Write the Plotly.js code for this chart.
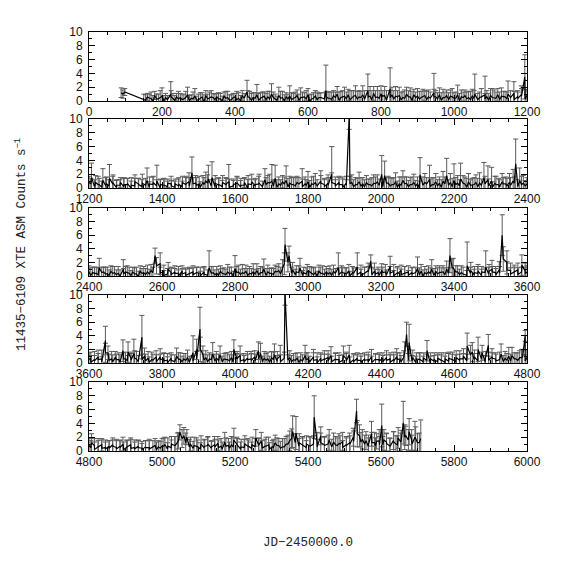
<!DOCTYPE html>
<html>
<head>
<meta charset="utf-8">
<script src="https://cdn.plot.ly/plotly-3.0.1.min.js"></script>
<style>html,body{margin:0;padding:0;background:#fff;}#chart{width:574px;height:574px;}</style>
</head>
<body>
<div id="chart"></div>
<script>
// ---- first set of dwell-averaged points (JD-2450000.0, counts/s, 1-sigma) ----
const days = [
  88,93,98,
  150,160,170,180,190,200,210,224,230,240,
  250,260,270,280,290,300,310,320,330,340,
  350,360,370,380,390,400,410,420,433,440,
  450,460,470,480,490,500,510,520,530,540,
  550,560,570,580,590,600,610,620,630,649,
  650,660,670,680,690,700,710,720,730,740,
  750,764,770,780,790,800,810,825,830,840,
  850,860,870,880,890,900,910,920,930,945,
  950,960,970,980,990,1000,1010,1020,1030,1040,
  1050,1057,1070,1085,1090,1100,1110,1120,1130,1140,
  1148,1164,1174,1184,1194,1200,
  1207,1218,1228,1238,1248,1256,1266,1276,1286,1296,
  1306,1316,1326,1336,1346,1359,1366,1376,1386,1396,
  1406,1416,1426,1436,1446,1456,1466,1474,1482,1492,
  1502,1512,1520,1527,1537,1546,1556,1566,1576,1583,
  1596,1606,1616,1626,1636,1646,1656,1666,1682,1690,
  1701,1710,1720,1730,1740,1750,1760,1770,1784,1792,
  1800,1810,1820,1835,1845,1855,1865,1875,1885,1895,
  1905,1913,1920,1930,1940,1950,1960,1970,1980,1990,
  2002,2010,2020,2030,2040,2050,2060,2070,2080,2090,
  2100,2107,2120,2133,2140,2150,2160,2170,2180,2190,
  2200,2210,2218,2230,2240,2250,2260,2270,2282,2293,
  2303,2312,2322,2332,2342,2352,2362,2369,2380,2390,2400,
  2410,2420,2428,2440,2450,2460,2470,2480,2494,2500,
  2510,2520,2530,2540,2550,2560,2570,2581,2595,2605,
  2617,2625,2635,2645,2655,2665,2675,2685,2695,2705,
  2715,2729,2740,2750,2760,2770,2780,2790,2800,2810,
  2820,2830,2840,2850,2860,2870,2879,2890,2900,2910,
  2920,2930,2937,2948,2958,2968,2978,2988,2998,3010,
  3020,3030,3040,3050,3060,3070,3083,3092,3102,3112,
  3122,3135,3145,3155,3165,3172,3182,3192,3202,3212,
  3225,3235,3245,3255,3265,3275,3285,3300,3310,3320,
  3330,3339,3350,3360,3370,3380,3389,3398,3410,3420,
  3436,3446,3456,3466,3476,3487,3496,3504,3514,3524,
  3532,3545,3555,3565,3575,3586,3595,3600,
  3605,3615,3625,3635,3645,3652,3662,3672,3682,3693,
  3700,3707,3715,3723,3730,3745,3752,3762,3772,3784,
  3795,3805,3815,3825,3840,3850,3860,3870,3885,3895,
  3904,3912,3920,3930,3939,3949,3959,3970,3980,3990,
  3997,4006,4014,4024,4034,4044,4054,4064,4070,4080,
  4090,4100,4108,4116,4124,4137,4150,4160,4170,4180,
  4192,4200,4215,4225,4235,4245,4255,4263,4275,4285,
  4297,4305,4313,4325,4335,4345,4355,4365,4374,4385,
  4395,4405,4415,4425,4435,4443,4452,4462,4470,4477,
  4487,4497,4507,4517,4526,4536,4546,4556,4566,4576,
  4586,4596,4606,4616,4626,4636,4650,4656,4666,4677,
  4686,4694,4704,4714,4729,4740,4750,4759,4770,4780,
  4788,4795,4800,
  4807,4815,4825,4835,4845,4855,4865,4875,4885,4893,
  4903,4914,4925,4935,4945,4955,4965,4981,4990,5000,
  5008,5016,5026,5036,5042,5049,5060,5068,5078,5088,
  5098,5107,5117,5126,5136,5144,5153,5162,5172,5182,
  5190,5197,5207,5217,5227,5237,5247,5257,5265,5272,
  5282,5292,5302,5310,5320,5330,5340,5350,5358,5367,
  5376,5386,5396,5406,5417,5425,5435,5445,5458,5470,
  5480,5488,5495,5505,5514,5524,5533,5541,5549,5559,
  5566,5574,5582,5588,5596,5602,5608,5615,5624,5634,
  5641,5647,5654,5661,5668,5677,5684,5693,5700,5709
];
const rate = [
  1.2,1.0,1.3,
  0.2,0.6,0.4,0.8,0.3,0.7,0.5,1.0,0.4,0.6,
  0.5,0.3,0.9,0.4,0.7,0.2,0.6,0.8,0.4,0.5,
  0.6,0.3,0.7,0.5,0.2,0.6,0.4,0.8,1.3,0.5,
  0.5,0.9,0.4,0.7,0.6,1.0,0.3,0.8,0.5,0.6,
  0.7,0.4,0.8,0.5,0.6,0.9,0.3,0.7,0.5,1.5,
  0.6,0.4,0.8,1.0,0.5,0.7,0.9,0.5,0.8,0.6,
  0.9,1.5,0.7,1.1,0.6,1.0,0.8,1.8,0.9,0.7,
  0.8,0.5,1.0,0.6,0.9,0.7,0.5,0.8,0.6,1.2,
  0.6,0.9,0.5,0.8,0.7,0.4,0.9,0.6,0.8,0.5,
  0.7,1.0,0.5,0.9,0.6,0.8,0.5,0.9,0.7,0.6,
  1.0,1.1,0.6,0.9,3.5,0.8,
  1.5,0.8,0.5,1.1,0.6,1.4,0.7,0.4,0.8,0.5,
  0.6,0.4,0.9,0.5,0.7,1.1,0.6,0.8,1.0,0.5,
  0.4,0.7,0.3,0.6,0.5,0.8,0.6,0.9,2.2,0.7,
  0.6,0.8,1.0,1.3,1.5,0.7,0.5,0.8,0.6,0.9,
  0.5,0.7,0.4,0.8,0.6,0.9,0.5,0.7,1.2,0.8,
  1.0,1.4,0.6,0.9,1.1,0.7,0.5,0.8,1.0,0.6,
  0.9,0.6,0.8,1.0,0.5,0.7,2.0,0.6,0.8,0.5,
  0.7,10.5,0.8,0.5,0.9,0.6,0.8,0.5,0.7,0.9,
  2.0,1.8,0.7,0.5,0.9,0.6,1.1,0.7,0.5,0.8,
  0.6,1.9,0.8,1.2,0.5,0.9,0.7,1.0,1.8,0.8,
  1.1,0.7,1.3,0.6,0.9,0.5,0.8,0.7,1.5,1.2,
  1.0,0.7,0.5,0.9,0.6,0.8,1.0,3.5,1.1,0.7,0.6,
  0.5,0.4,1.2,0.6,0.3,0.7,0.5,0.4,1.0,0.6,
  0.4,0.6,0.3,0.7,0.5,0.6,0.8,3.0,1.8,0.7,
  1.0,0.5,0.6,0.4,0.7,0.5,0.3,0.6,0.5,0.4,
  0.6,1.2,0.5,0.4,0.7,0.3,0.6,0.5,1.1,0.6,
  0.5,0.7,0.4,0.6,0.8,0.5,1.0,0.6,0.4,0.7,
  0.8,1.1,4.6,3.0,0.9,0.6,1.2,0.5,0.7,0.4,
  0.5,0.7,0.4,0.6,0.5,0.7,1.2,0.6,0.4,0.7,
  0.5,1.3,0.6,0.4,0.8,2.2,0.7,0.5,0.8,0.6,
  1.4,0.7,0.5,0.8,0.4,0.6,0.5,1.1,0.7,0.5,
  0.6,1.0,0.7,0.5,0.6,1.0,3.0,1.2,0.6,0.5,
  1.5,0.8,0.5,0.7,0.6,1.3,0.7,1.0,0.5,0.9,
  6.0,2.0,0.8,0.6,0.9,1.6,0.7,0.6,
  0.7,0.5,0.9,0.6,3.3,1.5,0.6,0.8,0.5,1.8,
  0.6,1.6,0.7,1.4,0.6,3.8,1.0,0.7,0.5,0.9,
  0.9,0.6,0.4,0.7,1.0,0.5,0.6,0.8,1.5,2.0,
  5.0,1.3,0.8,0.6,1.3,0.7,1.2,0.6,0.5,0.8,
  2.0,0.7,1.1,0.5,0.7,0.6,0.9,1.8,1.4,0.7,
  0.6,0.8,1.2,0.6,1.1,10.5,0.8,0.5,0.7,0.5,
  1.1,0.6,0.9,0.5,0.7,0.6,0.8,1.1,0.6,0.5,
  1.1,0.6,1.2,0.5,0.7,0.4,0.6,0.5,0.9,0.6,
  0.5,0.7,0.8,0.6,0.5,0.9,0.6,0.8,4.2,3.0,
  0.8,0.6,0.5,0.7,1.8,0.6,0.5,0.7,0.4,0.6,
  0.7,0.5,0.8,0.6,1.0,2.5,1.6,0.9,2.0,1.5,
  0.7,2.6,0.9,0.6,1.3,0.7,1.0,1.1,0.6,0.8,
  0.9,4.0,0.8,
  1.2,0.8,0.6,0.9,0.5,0.7,0.9,0.5,0.7,1.0,
  0.6,0.9,0.5,0.7,0.4,0.6,0.5,0.8,0.6,0.7,
  0.9,0.7,1.0,0.8,1.2,2.7,2.2,2.0,1.0,0.8,
  0.6,1.0,0.7,1.0,0.6,0.9,1.1,0.7,1.3,0.8,
  0.9,1.6,0.8,0.6,1.0,0.7,0.9,1.9,0.8,1.4,
  0.7,0.9,0.6,1.2,0.8,0.6,1.0,1.5,2.8,2.6,
  1.2,0.8,1.0,0.7,4.9,1.2,2.2,0.9,1.6,1.3,
  0.8,1.0,1.4,0.9,1.2,2.0,5.8,2.2,1.7,1.5,
  1.0,2.5,1.2,1.4,0.9,3.7,1.6,1.3,0.8,1.5,
  1.0,1.9,1.3,4.1,2.2,2.8,1.6,2.0,1.2,1.8
];
const err = [
  0.7,0.6,0.5,
  0.8,0.5,0.9,0.6,0.7,1.2,0.6,1.8,0.7,0.5,
  0.6,0.7,1.1,0.5,1.1,0.8,0.6,0.7,0.9,0.6,
  0.5,0.8,0.6,0.9,0.7,0.5,0.8,0.7,1.7,0.9,
  0.7,1.5,0.8,0.6,0.8,1.5,0.7,1.2,0.9,0.6,
  1.5,0.7,0.8,1.4,0.6,0.9,0.7,0.8,0.6,3.7,
  0.8,0.9,0.7,1.1,0.9,1.3,0.8,1.0,1.4,0.9,
  1.3,2.4,1.4,1.0,1.5,1.2,1.3,3.0,1.1,1.4,
  1.2,0.9,1.0,1.3,0.8,1.1,0.9,0.7,1.0,2.8,
  0.9,1.0,1.2,0.8,0.9,0.8,1.4,1.0,0.8,0.9,
  1.0,2.9,0.8,2.7,0.9,1.0,1.1,0.9,1.2,0.8,
  1.9,1.7,0.9,1.3,3.2,0.9,
  2.1,1.0,0.9,1.7,1.0,2.0,1.2,0.8,0.7,1.0,
  0.8,1.1,1.0,0.9,1.3,1.8,1.0,0.9,2.3,0.8,
  0.9,0.6,0.8,0.7,1.0,0.9,1.1,1.3,2.3,1.1,
  1.1,1.0,1.3,2.0,2.3,1.1,0.9,1.0,0.8,2.5,
  0.8,0.9,1.0,0.7,1.2,1.1,0.9,1.3,1.6,1.0,
  2.4,1.9,1.0,0.9,2.1,1.0,1.1,0.9,1.8,1.0,
  1.5,1.0,1.3,1.5,0.9,1.2,4.0,1.0,0.9,1.1,
  1.0,2.0,1.1,1.0,1.4,0.9,1.0,0.8,1.2,1.0,
  2.7,2.1,1.0,0.9,1.3,1.0,1.4,0.9,1.0,1.2,
  1.0,2.5,1.3,2.1,1.0,1.2,0.9,1.4,2.5,1.3,
  2.4,1.1,2.3,1.0,1.2,0.9,1.1,1.5,2.2,2.0,
  2.0,1.0,0.9,1.2,1.0,1.3,1.7,3.6,1.8,1.1,0.9,
  0.8,0.9,1.4,0.7,1.0,0.8,0.9,1.0,1.4,0.8,
  0.9,0.7,1.0,0.8,0.9,1.0,0.9,1.1,1.6,0.9,
  1.0,0.8,0.9,1.0,0.8,0.7,1.0,0.9,0.8,0.9,
  0.8,2.5,0.9,1.0,0.8,0.9,1.1,0.8,1.9,1.0,
  1.2,0.9,1.0,1.2,1.0,0.9,1.5,1.0,0.8,0.9,
  1.0,1.3,2.4,1.4,1.1,0.9,1.4,0.8,1.0,0.9,
  0.8,0.9,1.1,0.8,1.0,0.9,2.2,0.9,0.8,1.0,
  0.9,2.1,1.0,0.9,1.1,0.9,1.2,0.8,1.0,1.1,
  1.5,1.0,0.9,0.8,1.0,0.9,0.8,1.7,1.0,0.9,
  0.9,1.4,0.8,1.0,0.9,1.2,2.5,1.4,0.9,1.0,
  3.5,1.2,0.9,1.0,0.8,2.4,1.0,1.3,0.9,1.2,
  3.0,1.7,1.1,1.0,1.0,1.5,1.2,0.9,
  0.9,1.2,1.0,1.3,2.1,1.0,1.1,0.9,1.0,1.6,
  1.0,1.5,0.9,2.1,1.1,3.2,1.2,1.0,1.1,0.9,
  1.2,0.9,1.0,0.8,1.2,1.0,0.8,1.1,2.5,1.5,
  3.2,1.2,1.0,0.9,1.7,1.0,1.3,0.8,1.0,0.9,
  1.4,1.0,1.4,0.9,1.0,1.1,0.9,1.3,1.5,1.0,
  1.0,0.9,1.6,1.1,1.5,2.0,1.0,0.9,0.8,1.0,
  1.5,0.9,1.1,1.0,0.8,1.2,1.0,1.3,0.9,1.0,
  1.4,1.0,1.4,0.9,0.8,1.0,0.9,1.1,1.1,0.8,
  1.0,0.8,1.0,0.9,1.1,1.2,0.9,1.0,1.8,2.7,
  1.1,0.9,1.0,0.8,1.5,0.9,1.0,0.8,1.1,0.9,
  0.9,1.1,1.0,1.2,1.1,1.9,1.4,1.0,1.8,1.1,
  1.0,1.6,1.2,0.9,1.5,1.0,1.3,1.2,0.9,1.0,
  1.1,0.8,1.0,
  1.3,1.0,1.2,0.9,1.1,0.8,1.0,1.2,0.9,1.0,
  1.0,1.0,1.1,0.8,1.0,0.9,1.2,1.0,0.9,1.1,
  1.1,1.2,1.1,1.3,1.4,1.1,1.2,1.1,1.0,1.2,
  1.0,1.2,1.0,1.1,0.9,1.2,1.0,1.1,1.4,1.0,
  1.2,1.7,1.0,1.1,1.2,0.9,1.1,1.2,1.0,1.3,
  1.0,1.1,0.9,1.1,1.0,1.2,1.1,1.4,2.3,2.4,
  1.3,1.1,1.2,1.3,3.1,1.5,1.3,1.2,1.5,1.3,
  1.1,1.2,1.3,1.0,1.4,1.3,1.7,1.6,1.4,1.3,
  1.3,1.8,1.5,1.1,1.2,3.1,1.5,1.3,1.1,1.3,
  1.2,1.5,1.3,3.1,1.4,1.9,1.5,2.3,1.3,2.7
];
// ---- second set of dwell-averaged points, in between the first ----
const daysB = [
  155,165,175,185,195,205,215,225,235,245,
  255,265,275,285,295,305,315,325,335,345,
  355,365,375,385,395,405,415,425,435,445,
  455,465,475,485,495,505,515,525,535,545,
  555,565,575,585,595,605,615,625,635,645,
  655,665,675,685,695,705,715,725,735,745,
  755,765,775,785,795,805,815,825,835,845,
  855,865,875,885,895,905,915,925,935,945,
  955,965,975,985,995,1005,1015,1025,1035,1045,
  1055,1065,1075,1085,1095,1105,1115,1125,1135,1145,
  1155,1165,1175,1185,1195,1205,1215,1225,1235,1245,
  1255,1265,1275,1285,1295,1305,1315,1325,1335,1345,
  1355,1365,1375,1385,1395,1405,1415,1425,1435,1445,
  1455,1465,1475,1485,1495,1505,1515,1525,1535,1545,
  1555,1565,1575,1585,1595,1605,1615,1625,1635,1645,
  1655,1665,1675,1685,1695,1705,1715,1725,1735,1745,
  1755,1765,1775,1785,1795,1805,1815,1825,1835,1845,
  1855,1865,1875,1885,1895,1905,1915,1925,1935,1945,
  1955,1965,1975,1985,1995,2005,2015,2025,2035,2045,
  2055,2065,2075,2085,2095,2105,2115,2125,2135,2145,
  2155,2165,2175,2185,2195,2205,2215,2225,2235,2245,
  2255,2265,2275,2285,2295,2305,2315,2325,2335,2345,
  2355,2365,2375,2385,2395,2405,2415,2425,2435,2445,
  2455,2465,2475,2485,2495,2505,2515,2525,2535,2545,
  2555,2565,2575,2585,2595,2605,2615,2625,2635,2645,
  2655,2665,2675,2685,2695,2705,2715,2725,2735,2745,
  2755,2765,2775,2785,2795,2805,2815,2825,2835,2845,
  2855,2865,2875,2885,2895,2905,2915,2925,2935,2945,
  2955,2965,2975,2985,2995,3005,3015,3025,3035,3045,
  3055,3065,3075,3085,3095,3105,3115,3125,3135,3145,
  3155,3165,3175,3185,3195,3205,3215,3225,3235,3245,
  3255,3265,3275,3285,3295,3305,3315,3325,3335,3345,
  3355,3365,3375,3385,3395,3405,3415,3425,3435,3445,
  3455,3465,3475,3485,3495,3505,3515,3525,3535,3545,
  3555,3565,3575,3585,3595,3605,3615,3625,3635,3645,
  3655,3665,3675,3685,3695,3705,3715,3725,3735,3745,
  3755,3765,3775,3785,3795,3805,3815,3825,3835,3845,
  3855,3865,3875,3885,3895,3905,3915,3925,3935,3945,
  3955,3965,3975,3985,3995,4005,4015,4025,4035,4045,
  4055,4065,4075,4085,4095,4105,4115,4125,4135,4145,
  4155,4165,4175,4185,4195,4205,4215,4225,4235,4245,
  4255,4265,4275,4285,4295,4305,4315,4325,4335,4345,
  4355,4365,4375,4385,4395,4405,4415,4425,4435,4445,
  4455,4465,4475,4485,4495,4505,4515,4525,4535,4545,
  4555,4565,4575,4585,4595,4605,4615,4625,4635,4645,
  4655,4665,4675,4685,4695,4705,4715,4725,4735,4745,
  4755,4765,4775,4785,4795,4805,4815,4825,4835,4845,
  4855,4865,4875,4885,4895,4905,4915,4925,4935,4945,
  4955,4965,4975,4985,4995,5005,5015,5025,5035,5045,
  5055,5065,5075,5085,5095,5105,5115,5125,5135,5145,
  5155,5165,5175,5185,5195,5205,5215,5225,5235,5245,
  5255,5265,5275,5285,5295,5305,5315,5325,5335,5345,
  5355,5365,5375,5385,5395,5405,5415,5425,5435,5445,
  5455,5465,5475,5485,5495,5505,5515,5525,5535,5545,
  5555,5565,5575,5585,5595,5605,5615,5625,5635,5645,
  5655,5665,5675,5685,5695,5705
];
const rateB = [
  0.1,0.4,-0.1,0.3,0.5,0.0,0.2,0.6,0.1,0.3,
  0.2,0.5,0.0,0.3,0.1,0.4,-0.2,0.3,0.6,0.2,
  0.3,0.0,0.4,0.1,0.5,0.2,0.0,0.4,0.6,0.1,
  0.4,0.1,0.6,0.2,0.3,0.5,0.1,0.4,0.0,0.3,
  0.2,0.5,0.1,0.6,0.3,0.0,0.4,0.2,0.5,0.3,
  0.4,0.2,0.5,0.1,0.6,0.3,0.2,0.7,0.3,0.5,
  0.3,0.6,0.2,0.5,0.4,0.7,0.1,0.5,0.3,0.6,
  0.2,0.4,0.6,0.1,0.5,0.3,0.7,0.2,0.4,0.6,
  0.3,0.1,0.5,0.2,0.6,0.4,0.0,0.5,0.3,0.2,
  0.4,0.2,0.6,0.3,0.1,0.5,0.4,0.2,0.6,0.3,
  0.5,0.2,0.4,0.7,0.3,0.6,0.2,0.5,0.1,0.4,
  0.3,0.6,0.1,0.4,0.2,0.5,0.0,0.3,0.6,0.2,
  0.4,0.1,0.5,0.3,0.0,0.4,0.2,0.6,0.1,0.3,
  0.2,0.5,0.3,0.6,0.4,0.1,0.5,0.7,0.3,0.2,
  0.4,0.2,0.5,0.1,0.3,0.6,0.2,0.4,0.0,0.5,
  0.3,0.6,0.2,0.5,0.7,0.3,0.1,0.4,0.6,0.2,
  0.5,0.3,0.6,0.2,0.4,0.1,0.5,0.3,0.7,0.2,
  0.4,0.8,0.3,0.5,0.1,0.4,0.6,0.2,0.5,0.3,
  0.2,0.5,0.3,0.6,0.4,0.2,0.7,0.3,0.5,0.1,
  0.4,0.6,0.2,0.5,0.3,0.0,0.4,0.6,0.2,0.5,
  0.3,0.1,0.6,0.4,0.2,0.5,0.3,0.7,0.1,0.4,
  0.5,0.2,0.4,0.6,0.3,0.1,0.5,0.2,0.6,0.3,
  0.4,0.7,0.2,0.5,0.3,0.1,0.4,0.2,0.5,0.3,
  0.1,0.4,0.2,0.0,0.3,0.5,0.1,0.3,-0.1,0.4,
  0.2,0.3,0.5,1.5,0.4,0.1,0.3,0.2,0.4,0.0,
  0.3,0.1,0.4,0.2,0.5,0.0,0.3,0.1,0.4,0.2,
  0.1,0.4,0.2,0.3,0.0,0.5,0.2,0.4,0.1,0.3,
  0.3,0.2,0.5,0.1,0.4,0.2,0.6,0.3,1.8,2.0,
  0.4,0.2,0.5,0.1,0.3,0.6,0.2,0.0,0.4,0.2,
  0.3,0.1,0.4,0.2,0.5,0.3,0.0,0.4,0.2,0.1,
  0.4,0.6,0.2,0.3,0.1,0.5,0.2,0.4,0.0,0.3,
  0.2,0.4,0.1,0.3,0.5,0.2,0.0,0.3,0.4,0.1,
  0.3,0.5,0.2,0.4,1.2,0.6,0.2,0.3,0.1,0.4,
  0.2,0.4,0.1,0.5,0.3,0.6,0.2,0.4,2.5,0.9,
  0.3,0.5,0.2,0.6,0.4,0.1,0.3,0.5,0.2,1.5,
  0.4,0.2,0.5,0.1,0.6,0.3,0.4,0.7,0.2,0.5,
  0.3,0.1,0.4,0.2,0.5,0.3,0.0,0.4,0.2,0.6,
  0.2,0.4,0.1,0.3,0.6,2.0,0.4,0.2,0.5,0.3,
  0.4,0.2,0.5,0.3,0.1,0.6,0.3,0.2,0.5,0.4,
  0.3,0.6,0.2,0.4,0.1,0.5,0.3,0.2,0.7,0.4,
  0.2,0.4,0.1,0.3,0.5,0.2,0.4,0.0,0.3,0.5,
  0.3,0.2,0.5,0.1,0.4,0.3,0.0,0.2,0.4,0.1,
  0.4,0.2,0.1,0.5,0.3,0.2,0.4,0.1,0.3,0.5,
  0.2,1.5,0.4,0.3,0.1,0.5,0.2,0.4,0.0,0.3,
  0.2,0.4,0.1,0.3,0.5,0.2,0.4,0.6,0.3,1.2,
  0.5,0.3,0.6,0.2,0.4,0.7,0.3,0.5,0.2,0.4,
  0.3,0.6,0.4,0.8,0.3,0.5,0.2,0.6,0.4,0.3,
  0.4,0.7,0.3,0.5,0.2,0.6,0.4,0.3,0.5,0.2,
  0.5,0.3,0.6,0.2,0.4,0.7,0.3,0.5,0.8,1.5,
  1.8,1.2,0.6,0.4,0.7,0.3,0.5,0.8,0.4,0.6,
  0.5,0.3,0.7,0.4,0.6,0.9,0.3,0.5,0.7,0.4,
  0.6,0.9,0.4,0.7,0.3,0.5,0.8,0.4,0.6,1.0,
  1.8,1.2,0.7,0.9,0.5,0.8,1.0,0.6,1.2,0.8,
  1.0,0.6,0.9,1.1,0.5,0.8,1.0,1.4,2.5,1.3,
  1.0,0.7,1.2,0.8,1.5,0.9,1.1,0.7,1.3,0.9,
  1.4,2.0,1.6,1.0,1.8,1.2
];
const errB = [
  0.8,0.6,0.9,0.7,1.0,0.8,0.6,0.9,0.7,1.1,
  0.7,0.9,0.8,1.0,0.6,0.8,1.1,0.7,0.9,0.8,
  0.9,0.7,1.0,0.8,0.6,1.2,0.8,0.7,0.9,1.0,
  0.8,1.0,0.7,0.9,1.1,0.8,0.6,1.0,0.9,0.7,
  1.0,0.8,0.9,0.7,1.2,0.9,0.8,1.1,0.7,0.9,
  0.9,1.1,0.8,1.2,0.9,1.0,1.3,0.8,1.1,0.9,
  1.2,0.9,1.3,1.0,1.1,0.8,1.4,1.0,1.2,0.9,
  1.0,1.2,0.9,1.3,0.8,1.1,1.0,1.2,0.9,1.1,
  0.9,1.1,0.8,1.0,1.2,0.9,1.1,0.8,1.0,1.2,
  1.1,0.9,1.2,0.8,1.0,1.3,0.9,1.1,0.8,1.0,
  1.0,1.2,0.9,1.1,1.3,0.8,1.0,1.2,0.9,1.1,
  0.9,1.1,1.0,0.8,1.2,0.9,1.0,1.1,0.8,1.0,
  1.0,0.8,1.1,0.9,1.2,1.0,0.8,1.1,0.9,1.0,
  0.8,1.0,1.2,0.9,1.1,0.8,1.0,1.2,0.9,1.1,
  1.1,0.9,1.0,1.2,0.8,1.1,0.9,1.0,1.2,0.8,
  0.9,1.1,0.8,1.0,1.3,0.9,1.1,0.8,1.0,1.2,
  1.0,1.2,0.9,1.1,0.8,1.0,1.2,0.9,1.1,1.0,
  1.1,1.4,0.9,1.0,1.2,0.8,1.1,1.0,0.9,1.2,
  1.0,0.8,1.2,1.0,0.9,1.1,0.8,1.2,1.0,0.9,
  1.2,1.0,0.9,1.1,0.8,1.0,1.2,0.9,1.1,1.0,
  0.9,1.1,1.0,0.8,1.2,1.0,0.9,1.1,1.3,0.8,
  1.0,1.2,0.9,1.1,1.0,0.8,1.2,1.0,0.9,1.1,
  1.1,0.9,1.0,1.2,0.8,1.1,0.9,1.0,0.8,1.0,
  0.8,1.0,0.7,0.9,0.8,1.0,0.7,0.9,0.8,0.7,
  0.9,0.7,0.8,1.2,0.9,0.7,0.8,1.0,0.7,0.9,
  0.8,0.9,0.7,1.0,0.8,0.7,0.9,0.8,1.0,0.7,
  0.9,0.7,0.8,1.0,0.7,0.9,0.8,0.7,1.0,0.8,
  0.7,0.9,0.8,1.0,0.7,0.9,0.8,1.0,1.6,1.4,
  0.9,0.8,1.0,0.7,0.9,0.8,1.0,0.7,0.9,0.8,
  0.8,0.9,0.7,1.0,0.8,0.9,0.7,0.8,1.0,0.9,
  0.9,0.8,1.0,0.7,0.9,0.8,0.7,1.0,0.8,0.9,
  0.8,1.0,0.7,0.9,0.8,1.0,0.9,0.7,0.8,1.0,
  0.9,0.7,1.0,0.8,1.3,0.9,0.8,1.0,0.7,0.9,
  0.8,1.0,0.9,0.7,1.0,0.8,0.9,1.0,1.8,1.2,
  0.9,0.8,1.0,0.7,0.9,1.0,0.8,0.9,0.7,1.4,
  0.9,1.0,0.8,1.1,0.9,0.8,1.0,1.1,0.9,0.8,
  1.0,0.8,0.9,1.0,0.8,1.1,0.9,0.8,1.0,0.9,
  0.8,1.0,0.9,0.8,1.1,1.8,0.9,1.0,0.8,1.0,
  0.9,0.8,1.0,0.9,1.1,0.8,1.0,0.9,0.8,1.0,
  1.0,0.9,0.8,1.0,0.9,1.1,0.8,1.0,0.9,0.8,
  0.9,1.0,0.8,0.9,1.0,0.8,1.1,0.9,1.0,0.8,
  1.0,0.8,0.9,1.0,0.8,1.1,0.9,1.0,0.8,0.9,
  0.8,1.0,0.9,0.8,1.0,0.9,0.8,1.1,0.9,1.0,
  0.9,1.6,1.0,0.8,0.9,1.0,0.8,0.9,1.0,0.8,
  1.0,0.8,0.9,1.1,0.8,1.0,0.9,0.8,1.0,1.4,
  0.9,1.1,1.0,0.9,1.2,0.8,1.0,1.1,0.9,1.0,
  1.0,0.9,1.1,1.2,0.9,1.0,1.1,0.9,1.2,1.0,
  1.1,0.9,1.2,1.0,1.1,0.9,1.3,1.0,1.1,0.9,
  1.0,1.2,0.9,1.1,1.0,1.2,0.9,1.1,1.3,1.2,
  1.3,1.4,1.1,1.0,1.2,0.9,1.1,1.2,1.0,1.1,
  1.1,1.0,1.2,0.9,1.3,1.1,1.0,1.2,1.1,0.9,
  1.2,1.0,1.1,1.3,0.9,1.2,1.1,1.0,1.2,1.3,
  1.4,1.3,1.1,1.2,1.0,1.3,1.2,1.1,1.4,1.2,
  1.3,1.1,1.2,1.4,1.0,1.3,1.2,1.5,1.9,1.4,
  1.3,1.2,1.5,1.1,1.6,1.2,1.4,1.1,1.5,1.3,
  1.6,1.8,1.5,1.3,1.7,1.4
];
const panelRanges = [[0,1200],[1200,2400],[2400,3600],[3600,4800],[4800,6000]];
const xTickVals = [
  [0,200,400,600,800,1000,1200],
  [1200,1400,1600,1800,2000,2200,2400],
  [2400,2600,2800,3000,3200,3400,3600],
  [3600,3800,4000,4200,4400,4600,4800],
  [4800,5000,5200,5400,5600,5800,6000]
];
const yTickVals = [0,2,4,6,8,10];
const yTitle = "11435\u22126109 XTE ASM Counts s<sup>\u22121</sup>";
const xTitle = "JD\u22122450000.0";

if (days.length !== rate.length || days.length !== err.length ||
    daysB.length !== rateB.length || daysB.length !== errB.length) {
  throw new Error("length mismatch " + [days.length, rate.length, err.length, daysB.length, rateB.length, errB.length].join(","));
}

// merge both sets in time order
const pts = [];
days.forEach((d, k) => pts.push([d, rate[k], err[k]]));
daysB.forEach((d, k) => pts.push([d, rateB[k], errB[k]]));
pts.sort((a, b) => a[0] - b[0]);

const W = 574, H = 574;
const L = 89, R = 527, T = 32, B = 451;
const panelPx = [[32,101],[119,188],[208,276],[295,363],[382,451]];
const ph = B - T;
const fontTick = {family: "Liberation Sans, Arial, sans-serif", size: 12, color: "#111"};
const fontTitle = {family: "Liberation Mono, Courier New, monospace", size: 12.5, color: "#222"};

const traces = [];
const layout = {
  width: W, height: H,
  margin: {l: L, r: W - R, t: T, b: H - B, pad: 0},
  paper_bgcolor: "#fff", plot_bgcolor: "#fff",
  showlegend: false,
  annotations: [
    {text: yTitle, xref: "paper", yref: "paper", x: (21 - L)/(R - L), y: (B - 245)/ph,
     showarrow: false, textangle: -90, font: fontTitle, xanchor: "center", yanchor: "middle"},
    {text: xTitle, xref: "paper", yref: "paper", x: 0.5, y: (B - 543)/ph,
     showarrow: false, font: fontTitle, xanchor: "center", yanchor: "middle"}
  ]
};

panelRanges.forEach((rg, i) => {
  const n = i + 1;
  const sfx = n === 1 ? "" : String(n);
  let first = -1, last = -1;
  for (let k = 0; k < pts.length; k++) {
    if (pts[k][0] >= rg[0] && pts[k][0] <= rg[1]) { if (first < 0) first = k; last = k; }
  }
  const a = Math.max(0, first - 1), b = Math.min(pts.length - 1, last + 1);
  const sub = pts.slice(a, b + 1);
  traces.push({
    type: "scatter", mode: "lines",
    x: sub.map(p => p[0]), y: sub.map(p => p[1]),
    xaxis: "x" + sfx, yaxis: "y" + sfx,
    line: {color: "#000", width: 1.2},
    error_y: {type: "data", array: sub.map(p => p[2]), visible: true, color: "#5a5a5a", thickness: 1, width: 2.5},
    hoverinfo: "skip"
  });
  const top = panelPx[i][0], bot = panelPx[i][1];
  layout["xaxis" + sfx] = {
    domain: [0, 1], range: rg, tickvals: xTickVals[i], ticktext: xTickVals[i].map(String),
    ticks: "inside", ticklen: 6, tickcolor: "#000", tickwidth: 1,
    minor: {dtick: 50, tick0: 0, ticks: "inside", ticklen: 3, tickcolor: "#000"},
    showline: true, linecolor: "#000", linewidth: 1, mirror: "allticks",
    showgrid: false, zeroline: false, tickfont: fontTick, anchor: "y" + sfx,
    fixedrange: true
  };
  layout["yaxis" + sfx] = {
    domain: [(B - bot)/ph, (B - top)/ph], range: [0, 10], tickvals: yTickVals,
    ticks: "inside", ticklen: 6, tickcolor: "#000", tickwidth: 1,
    minor: {dtick: 1, tick0: 0, ticks: "inside", ticklen: 3, tickcolor: "#000"},
    showline: true, linecolor: "#000", linewidth: 1, mirror: "allticks",
    showgrid: false, zeroline: false, tickfont: fontTick, anchor: "x" + sfx,
    ticklabelstandoff: 3, fixedrange: true
  };
});

Plotly.newPlot("chart", traces, layout, {staticPlot: true, displayModeBar: false});
</script>
</body>
</html>
